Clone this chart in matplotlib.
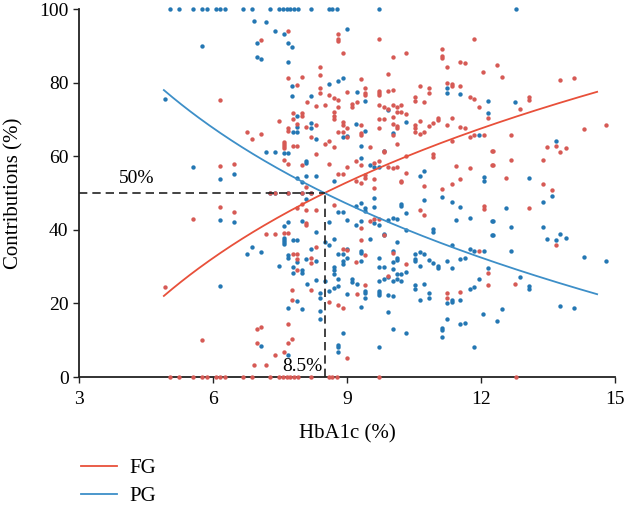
import numpy as np
import matplotlib.pyplot as plt

plt.rcParams['font.family'] = ['Liberation Serif', 'DejaVu Serif']

# patients with FG = 0 (PG = 100)
x_fg_zero = [5.04, 5.24, 5.55, 5.75, 5.87, 6.07, 6.16, 6.27, 6.67, 6.87, 7.28, 7.48,
             7.57, 7.66, 7.73, 7.82, 7.90, 8.19, 8.60, 8.66, 8.78, 9.72, 12.78]
# patients with FG = PG = 50
x_fg_half = [7.28, 7.38, 7.69, 7.99, 8.19]

# (HbA1c, FG contribution) for the rest; PG = 100 - FG
patients = [
    (4.93, 24.5), (5.75, 10.0), (5.55, 42.9), (6.16, 46.2), (6.16, 57.4), (6.16, 75.4),
    (6.46, 57.8), (6.46, 44.9), (7.18, 3.4), (7.38, 6.0), (7.58, 6.7), (6.98, 9.2),
    (7.69, 9.2), (7.78, 10.4), (6.98, 13.1), (7.07, 13.5), (7.69, 14.3), (7.78, 20.8),
    (7.78, 23.6), (8.19, 23.7), (8.60, 20.5), (8.80, 19.5), (8.91, 18.8), (9.01, 5.3),
    (9.22, 22.5), (7.89, 29.1), (8.19, 31.1), (8.19, 32.3), (7.89, 32.0), (7.79, 33.3),
    (7.89, 33.3), (8.30, 35.3), (8.91, 34.7), (9.01, 34.4), (7.18, 38.8), (7.38, 38.8),
    (7.58, 39.1), (7.69, 39.1), (8.09, 41.4), (8.09, 41.9), (7.89, 46.0), (7.99, 46.9),
    (8.09, 45.5), (8.30, 45.5), (8.70, 46.7), (6.92, 3.3),
    (7.69, 94.1), (7.07, 91.6), (8.80, 93.1), (8.80, 91.8), (8.80, 91.4), (8.91, 88.0),
    (7.69, 81.3), (7.99, 81.4), (7.89, 79.3), (8.40, 84.3), (8.40, 82.1), (8.40, 78.4),
    (8.40, 77.3), (8.60, 76.7), (8.70, 75.9), (8.80, 75.4), (9.01, 77.4), (8.10, 74.6),
    (8.30, 73.6), (8.50, 73.9), (8.80, 73.5), (8.70, 71.9), (8.70, 70.8), (8.70, 70.2),
    (8.91, 69.3), (8.91, 68.6), (9.01, 67.7), (9.11, 74.1), (9.11, 73.5), (9.22, 74.6),
    (7.79, 71.8), (7.99, 71.8), (7.99, 71.0), (7.79, 70.1), (7.48, 69.7), (7.89, 68.8),
    (8.09, 68.0), (8.30, 68.5), (7.69, 67.6), (7.69, 66.8), (6.77, 66.6), (6.87, 64.8),
    (7.07, 66.0), (7.58, 63.9), (7.58, 63.3), (7.58, 62.7), (7.58, 62.3), (7.79, 62.7),
    (7.89, 62.9), (8.19, 65.3), (8.50, 63.3), (8.60, 64.2), (8.70, 62.6), (8.80, 66.6),
    (8.91, 66.7), (9.01, 65.3), (8.30, 60.5), (7.58, 58.9), (7.69, 57.9), (7.99, 57.5),
    (8.60, 57.9), (9.01, 57.2), (8.80, 55.2), (8.91, 55.2), (8.09, 51.7),
    (11.24, 21.6), (11.24, 22.9), (11.54, 23.0), (12.16, 25.0), (9.41, 25.0), (9.92, 27.4),
    (10.32, 30.7), (11.95, 34.2), (12.16, 28.3), (10.02, 33.8), (9.31, 37.2), (9.41, 33.2),
    (9.21, 31.3), (9.82, 38.5), (9.31, 40.4), (9.51, 42.4), (9.61, 42.9), (9.72, 42.9),
    (10.63, 45.3), (10.73, 44.0), (12.06, 45.6), (12.06, 46.6),
    (9.72, 91.8), (10.32, 88.0), (10.02, 87.0), (11.13, 89.0), (11.13, 87.2), (11.13, 86.8),
    (11.54, 85.7), (11.65, 85.2), (11.85, 91.8), (11.24, 84.2), (9.31, 81.0), (9.92, 82.3),
    (12.05, 83.0), (9.41, 78.4), (9.41, 77.2), (9.41, 76.7), (9.72, 77.8), (9.72, 77.2),
    (9.72, 76.7), (9.92, 77.7), (10.02, 78.0), (10.63, 79.0), (10.84, 78.6), (10.84, 77.3),
    (11.24, 79.9), (11.34, 79.6), (11.34, 79.1), (11.54, 79.1), (10.53, 76.2), (10.53, 75.0),
    (10.73, 74.6), (11.75, 76.2), (11.85, 75.5), (11.95, 73.5), (9.72, 73.9), (9.82, 73.5),
    (9.92, 72.7), (10.02, 73.9), (10.13, 73.5), (10.22, 73.9), (10.13, 72.0), (10.22, 72.0),
    (10.32, 71.4), (10.02, 70.7), (9.72, 70.0), (9.82, 70.0), (9.72, 67.7), (10.02, 68.8),
    (10.13, 68.3), (10.13, 67.7), (10.53, 68.5), (10.53, 67.8), (10.63, 69.7), (10.73, 66.5),
    (10.63, 66.0), (10.53, 66.5), (10.84, 68.3), (10.93, 68.9), (11.04, 69.8), (11.04, 70.3),
    (11.24, 68.6), (11.34, 70.3), (11.54, 67.9), (11.65, 67.6), (11.75, 65.3), (11.85, 65.7),
    (12.06, 65.8), (12.16, 70.3), (11.34, 64.0), (10.93, 60.5), (10.93, 59.9), (10.32, 60.1),
    (10.13, 63.2), (10.02, 65.8), (9.51, 62.6), (9.31, 66.2), (9.31, 65.8), (9.31, 68.5),
    (9.82, 61.5), (9.82, 61.1), (9.21, 58.6), (9.31, 57.6), (9.61, 58.2), (9.72, 58.6),
    (9.92, 57.2), (10.02, 56.7), (10.13, 57.1), (10.32, 55.4), (11.44, 57.4), (11.75, 56.7),
    (11.34, 52.4), (11.54, 53.8), (11.13, 51.2), (10.73, 52.0), (10.22, 53.4), (10.22, 52.9),
    (12.25, 61.4), (12.25, 57.6), (9.21, 53.4), (9.31, 52.7), (9.41, 54.9), (9.41, 54.2),
    (9.61, 53.9), (9.61, 51.4),
    (12.36, 84.7), (12.47, 81.6), (13.78, 80.6), (14.09, 81.2), (12.77, 25.3), (13.08, 76.0),
    (13.08, 75.3), (12.87, 72.7), (12.67, 65.8), (14.30, 67.3), (14.80, 68.6), (12.27, 61.5),
    (12.27, 57.5), (13.68, 36.0), (13.48, 62.6), (13.68, 62.8), (13.78, 61.1), (13.90, 62.1),
    (12.67, 59.1), (13.38, 59.1), (12.57, 54.1), (13.07, 45.9), (13.38, 52.4), (13.58, 50.8),
]

# logarithmic trend: FG = a + b * ln(HbA1c), PG = 100 - FG
fit_a, fit_b = -58.7, 50.8
fit_range = (4.9, 14.6)
cut_x, cut_y = 8.5, 50

hba1c = np.array([p[0] for p in patients] + x_fg_zero + x_fg_half)
fg = np.array([p[1] for p in patients] + [0] * len(x_fg_zero) + [50] * len(x_fg_half))
pg = 100 - fg

red_pt, blue_pt = '#d65a55', '#2477b3'
red_ln, blue_ln = '#e8503a', '#3d8fc8'

fig = plt.figure(figsize=(6.34, 5.09), dpi=100)
ax = fig.add_axes([0.1246, 0.2593, 0.8454, 0.723])

ax.scatter(hba1c, pg, s=10, color=blue_pt, linewidths=0, zorder=3, clip_on=False)
ax.scatter(hba1c, fg, s=10, color=red_pt, linewidths=0, zorder=3, clip_on=False)

xs = np.linspace(*fit_range, 200)
fg_fit = fit_a + fit_b * np.log(xs)
ax.plot(xs, fg_fit, color=red_ln, lw=1.3, label='FG', zorder=4)
ax.plot(xs, 100 - fg_fit, color=blue_ln, lw=1.3, label='PG', zorder=4)

ax.plot([3, cut_x], [cut_y, cut_y], color='#222222', lw=1.2, ls=(0, (5, 3)), zorder=5)
ax.plot([cut_x, cut_x], [0, cut_y], color='#222222', lw=1.2, ls=(0, (5, 3)), zorder=5)
ax.text(4.3, 51.5, '50%', fontsize=14, ha='center', va='bottom')
ax.text(cut_x - 0.05, 0.5, '8.5%', fontsize=14, ha='right', va='bottom')

ax.set_xlim(3, 15)
ax.set_ylim(0, 100)
ax.set_xticks([3, 6, 9, 12, 15])
ax.set_yticks([0, 20, 40, 60, 80, 100])
ax.tick_params(labelsize=14, length=4, width=1, color='#222222')
ax.tick_params(axis='x', pad=6)
for s in ['top', 'right']:
    ax.spines[s].set_visible(False)
for s in ['left', 'bottom']:
    ax.spines[s].set_linewidth(1.3)
    ax.spines[s].set_color('#222222')
ax.set_xlabel('HbA1c (%)', fontsize=15, labelpad=12)
ax.set_ylabel('Contributions (%)', fontsize=15, labelpad=11)

fig.legend(loc='center left', bbox_to_anchor=(0.098, 0.052), frameon=False, fontsize=15,
           handlelength=1.75, labelspacing=0.4, handletextpad=0.6)

fig.savefig('out.png', dpi=100)
